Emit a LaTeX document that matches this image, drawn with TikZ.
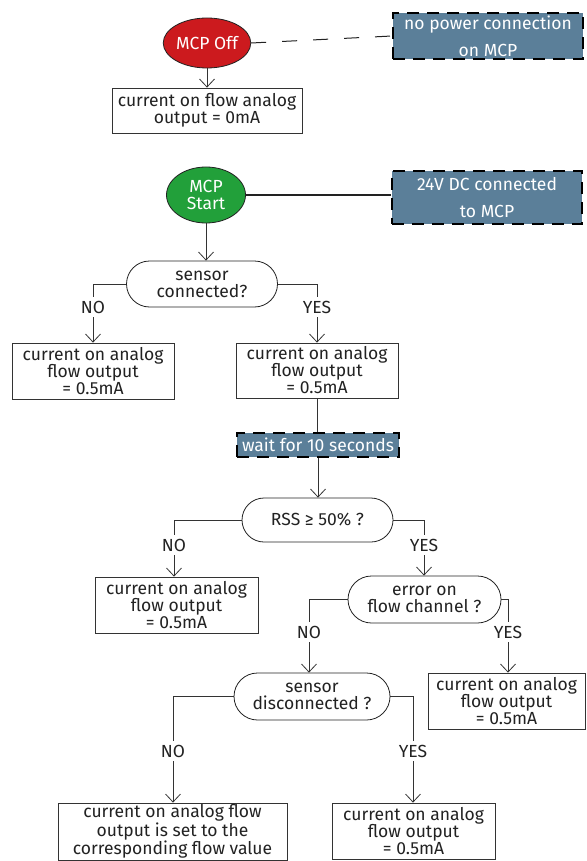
\documentclass[tikz,border=0pt]{standalone}
\usepackage{fontspec}
\setmainfont{Fira Sans}
\usetikzlibrary{arrows.meta,shapes.geometric,shapes.misc}
\definecolor{offred}{HTML}{CC1A1E}
\definecolor{startgreen}{HTML}{22A03A}
\definecolor{stepblue}{HTML}{5B7F99}
\definecolor{ink}{HTML}{222222}
\definecolor{wire}{HTML}{333333}
\begin{document}
\begin{tikzpicture}[x=1pt,y=-1pt,
  every node/.style={font=\fontsize{17.5}{17}\selectfont, text=ink, align=center, inner sep=0pt},
  term/.style={ellipse, draw=ink, line width=0.8pt, text=white},
  infobox/.style={rectangle, fill=stepblue, draw=black, line width=2.2pt, dash pattern=on 12pt off 8pt, text=white, font=\fontsize{17.5}{27}\selectfont},
  outbox/.style={rectangle, draw=wire, line width=0.8pt, fill=white},
  decision/.style={rounded rectangle, draw=ink, line width=0.8pt},
  lbl/.style={inner sep=4pt},
  conn/.style={draw=wire, line width=0.8pt},
  arr/.style={conn, -{Straight Barb[length=8pt,width=15pt]}}
]
\useasboundingbox (0,0) rectangle (586,861);
\fill[white] (0,0) rectangle (586,861);

% top part
\node[term, fill=offred, minimum width=86pt, minimum height=50pt] (off) at (207,43) {MCP Off};
\node[infobox, minimum width=190pt, minimum height=46pt] (nopow) at (488,36) {no power connection\\on MCP};
\node[outbox, minimum width=190pt, minimum height=45pt] (zero) at (207,110.5) {current on flow analog\\output = 0mA};
\draw[conn, dash pattern=on 15pt off 16pt, draw=ink, line width=1pt] (off.east) -- (nopow.west);
\draw[arr] (off.south) -- (zero.north);

% start
\node[term, fill=startgreen, minimum width=79pt, minimum height=56pt] (start) at (206,195) {MCP\\Start};
\node[infobox, minimum width=190pt, minimum height=53pt] (dc) at (487,197.5) {24V DC connected\\to MCP};
\draw[conn, line width=1.1pt, draw=ink] (start.east) -- (start.east -| dc.west);

\node[decision, minimum width=151pt, minimum height=46pt] (d1) at (202,284) {sensor\\connected?};
\draw[arr] (start.south) -- (start.south |- d1.north);

\node[lbl] (d1no) at (93,307) {NO};
\node[lbl] (d1yes) at (317,307) {YES};
\node[outbox, minimum width=162pt, minimum height=56pt] (b1) at (93,371) {current on analog\\flow output\\= 0.5mA};
\node[outbox, minimum width=162pt, minimum height=55pt] (b2) at (317,370.5) {current on analog\\flow output\\= 0.5mA};
\draw[conn] (d1.west) -| (d1no.north);
\draw[conn] (d1.east) -| (d1yes.north);
\draw[arr] (d1no.south) -- (d1no.south |- b1.north);
\draw[arr] (d1yes.south) -- (d1yes.south |- b2.north);

\node[infobox, minimum width=162pt, minimum height=24pt] (wait) at (318,445) {wait for 10 seconds};
\draw[conn] (b2.south) -- (b2.south |- wait.north);

\node[decision, minimum width=151pt, minimum height=44pt] (rss) at (317.5,520) {RSS ≥ 50\% ?};
\draw[arr] (wait.south) -- (wait.south |- rss.north);

\node[lbl] (rssno) at (174,545) {NO};
\node[lbl] (rssyes) at (424,545) {YES};
\node[outbox, minimum width=163pt, minimum height=56pt] (b3) at (176.5,605) {current on analog\\flow output\\= 0.5mA};
\node[decision, minimum width=153pt, minimum height=47pt] (err) at (424.5,599.5) {error on\\flow channel ?};
\draw[conn] (rss.west) -| (rssno.north);
\draw[conn] (rss.east) -| (rssyes.north);
\draw[arr] (rssno.south) -- (rssno.south |- b3.north);
\draw[arr] (rssyes.south) -- (rssyes.south |- err.north);

\node[lbl] (errno) at (309,632) {NO};
\node[lbl] (erryes) at (508,632) {YES};
\node[decision, minimum width=156pt, minimum height=47pt] (sd) at (312,696.5) {sensor\\disconnected ?};
\node[outbox, minimum width=157pt, minimum height=56pt] (b4) at (506.5,701) {current on analog\\flow output\\= 0.5mA};
\draw[conn] (err.west) -| (errno.north);
\draw[conn] (err.east) -| (erryes.north);
\draw[arr] (errno.south) -- (errno.south |- sd.north);
\draw[arr] (erryes.south) -- (erryes.south |- b4.north);

\node[lbl] (sdno) at (173,751) {NO};
\node[lbl] (sdyes) at (413,751) {YES};
\node[outbox, minimum width=229pt, minimum height=57pt] (b5) at (172.5,831.5) {current on analog flow\\output is set to the\\corresponding flow value};
\node[outbox, minimum width=163pt, minimum height=56pt] (b6) at (413.5,831) {current on analog\\flow output\\= 0.5mA};
\draw[conn] (sd.west) -| (sdno.north);
\draw[conn] (sd.east) -| (sdyes.north);
\draw[arr] (sdno.south) -- (sdno.south |- b5.north);
\draw[arr] (sdyes.south) -- (sdyes.south |- b6.north);
\end{tikzpicture}
\end{document}
